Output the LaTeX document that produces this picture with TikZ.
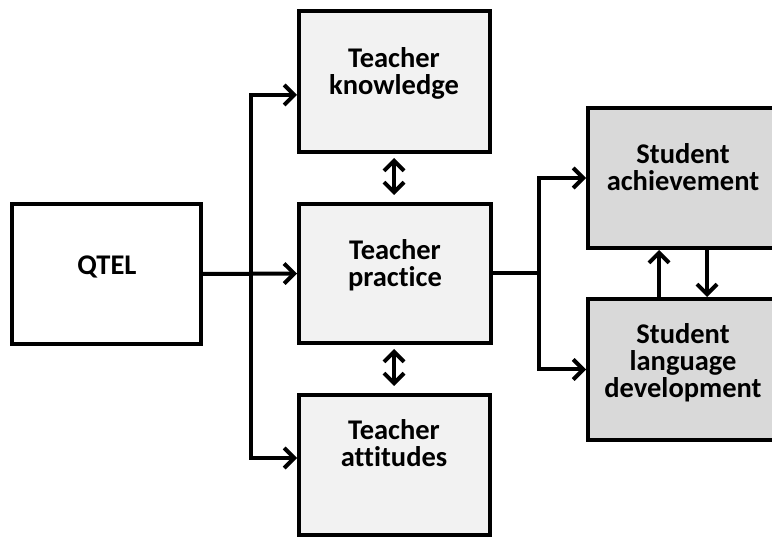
\documentclass[tikz,border=0pt]{standalone}
\usepackage{fontspec}
\setmainfont{Carlito}[Ligatures={NoCommon}]
\usetikzlibrary{arrows.meta}
\definecolor{tfill}{HTML}{F2F2F2}
\definecolor{sfill}{HTML}{D9D9D9}
\begin{document}
\begin{tikzpicture}[x=1pt,y=-1pt,
  box/.style={draw, line width=4pt, inner sep=0pt, minimum width=#1},
  lbl/.style={font=\fontsize{28.5}{27}\selectfont\bfseries, align=center, inner sep=0pt, anchor=base},
  conn/.style={line width=4pt, -{Straight Barb[length=10pt,width=20pt]}},
  dbl/.style={line width=4pt, {Straight Barb[length=10pt,width=20pt]}-{Straight Barb[length=10pt,width=20pt]}, shorten <=4pt, shorten >=7pt}]
\useasboundingbox (0,0) rectangle (772,537);
\clip (0,0) rectangle (772,537);
% boxes
\node[box=189pt, minimum height=140pt, fill=white] (qtel) at (106.5,274) {};
\node[box=191pt, minimum height=141pt, fill=tfill] (know) at (394.5,81.5) {};
\node[box=192pt, minimum height=139pt, fill=tfill] (prac) at (395,273.5) {};
\node[box=191pt, minimum height=140pt, fill=tfill] (att) at (394.5,465) {};
\node[box=202pt, minimum height=140pt, fill=sfill] (ach) at (689,178) {};
\node[box=202pt, minimum height=141pt, fill=sfill] (lang) at (689,369.5) {};
% labels (anchor = baseline of last line)
\node[lbl] (qtelT) at (107,275) {QTEL};
\node[lbl] (knowT) at (394,95) {Teacher\\knowledge};
\node[lbl] (pracT) at (395,287) {Teacher\\practice};
\node[lbl] (attT) at (394,467) {Teacher\\attitudes};
\node[lbl] (achT) at (683,191) {Student\\achievement};
\node[lbl] (langT) at (683,398) {Student\\language\\development};
% junctions
\coordinate (j1) at (251,274);
\coordinate (j2) at (539,273.5);
% connectors
\draw[conn] (qtel.east) -- (prac.west);
\draw[conn] (j1) |- (know.west |- 0,95);
\draw[conn] (j1) |- (att.west |- 0,458);
\draw[line width=4pt] (prac.east) -- (j2);
\draw[conn] (j2) |- (ach.west);
\draw[conn] (j2) |- (lang.west);
\draw[conn] ([xshift=-30pt]lang.north) -- ([xshift=-30pt]ach.south);
\draw[conn] ([xshift=18pt]ach.south) -- ([xshift=18pt]lang.north);
\draw[dbl] ([xshift=-0.5pt]know.south) -- ([xshift=-1pt]prac.north);
\draw[dbl] ([xshift=-1pt]prac.south) -- ([xshift=-0.5pt]att.north);
\end{tikzpicture}
\end{document}
